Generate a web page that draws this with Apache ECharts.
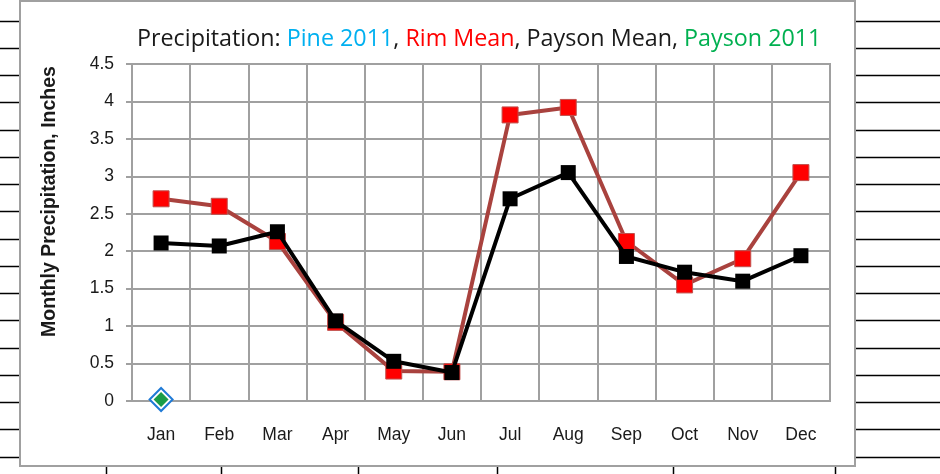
<!DOCTYPE html>
<html>
<head>
<meta charset="utf-8">
<script src="https://cdn.jsdelivr.net/npm/echarts@6/dist/echarts.min.js"></script>
<style>
    html, body { margin: 0; padding: 0; background: #fff; }
    #chart { width: 940px; height: 474px; }
</style>
</head>
<body>
<div id="chart"></div>
<script>
// data
var months = ['Jan', 'Feb', 'Mar', 'Apr', 'May', 'Jun', 'Jul', 'Aug', 'Sep', 'Oct', 'Nov', 'Dec'];
var rimMean = [2.7, 2.6, 2.13, 1.05, 0.4, 0.39, 3.82, 3.92, 2.13, 1.55, 1.9, 3.05];
var paysonMean = [2.11, 2.07, 2.26, 1.07, 0.53, 0.38, 2.7, 3.05, 1.93, 1.72, 1.6, 1.94];
var pine2011 = [0.02, null, null, null, null, null, null, null, null, null, null, null];
var payson2011 = [0.02, null, null, null, null, null, null, null, null, null, null, null];
var yMin = 0, yMax = 4.5, yStep = 0.5;

var font = 'Liberation Sans';
var titleFont = 'Open Sans';

// spreadsheet cell lines around the chart box
var cellLines = [];
for (var i = 0; i < 17; i++) {
    var y = Math.round(20.7 + 27.25 * i) + 0.5;
    cellLines.push({ type: 'line', shape: { x1: 0, y1: y, x2: 20, y2: y }, style: { stroke: '#000', lineWidth: 1.5 }, z: -20 });
    cellLines.push({ type: 'line', shape: { x1: 855, y1: y, x2: 940, y2: y }, style: { stroke: '#000', lineWidth: 1.5 }, z: -20 });
}
[106, 221, 358, 497, 673, 835].forEach(function (x) {
    cellLines.push({ type: 'line', shape: { x1: x + 0.5, y1: 466, x2: x + 0.5, y2: 474 }, style: { stroke: '#000', lineWidth: 1.5 }, z: -20 });
});
cellLines.push({
    type: 'rect', shape: { x: 20, y: 1, width: 835, height: 465 },
    style: { fill: '#fff', stroke: '#a0a0a0', lineWidth: 2 }, z: -10
});

var titleSize = 23.3;
function titleStyle(color) {
    return { color: color, fontSize: titleSize, lineHeight: 26, fontWeight: 'normal', fontFamily: titleFont };
}

var myChart = echarts.init(document.getElementById('chart'));
var option = {
    backgroundColor: '#fff',
    animation: false,
    textStyle: { fontFamily: font },
    graphic: { elements: cellLines },
    title: {
        text: '{a|Precipitation: }{b|Pine 2011}{a|, }{c|Rim Mean}{a|, Payson Mean, }{d|Payson 2011}',
        left: 137,
        top: 26,
        padding: 0,
        textStyle: {
            rich: {
                a: titleStyle('#1a1a1a'),
                b: titleStyle('#00b0f0'),
                c: titleStyle('#ff0000'),
                d: titleStyle('#00b050')
            }
        }
    },
    grid: {
        left: 132,
        top: 64,
        right: 110,
        bottom: 73,
        show: true,
        borderColor: '#a0a0a0',
        borderWidth: 2
    },
    xAxis: {
        type: 'category',
        data: months,
        boundaryGap: true,
        axisLine: { lineStyle: { color: '#a0a0a0', width: 2 } },
        axisTick: { length: 6, lineStyle: { color: '#a0a0a0', width: 2 } },
        splitLine: { show: true, lineStyle: { color: '#a0a0a0', width: 2 } },
        axisLabel: { color: '#1a1a1a', fontSize: 17.5, margin: 25, fontFamily: font }
    },
    yAxis: {
        type: 'value',
        min: yMin,
        max: yMax,
        interval: yStep,
        name: 'Monthly Precipitation, Inches',
        nameLocation: 'middle',
        nameGap: 72,
        nameTextStyle: { color: '#1a1a1a', fontSize: 19.5, fontWeight: 'bold', fontFamily: font, padding: [0, 0, 0, 62] },
        axisLine: { show: true, lineStyle: { color: '#a0a0a0', width: 2 } },
        axisTick: { show: true, length: 6, lineStyle: { color: '#a0a0a0', width: 2 } },
        splitLine: { lineStyle: { color: '#a0a0a0', width: 2 } },
        axisLabel: { color: '#1a1a1a', fontSize: 17.5, margin: 18, fontFamily: font }
    },
    series: [
        {
            name: 'Rim Mean',
            type: 'line',
            data: rimMean,
            symbol: 'rect',
            symbolSize: 16,
            lineStyle: { color: '#a9423e', width: 4 },
            itemStyle: { color: '#ff0000', borderColor: '#c0504d', borderWidth: 1 },
            z: 2
        },
        {
            name: 'Payson Mean',
            type: 'line',
            data: paysonMean,
            symbol: 'rect',
            symbolSize: 15,
            lineStyle: { color: '#000', width: 4 },
            itemStyle: { color: '#000' },
            z: 3
        },
        {
            name: 'Pine 2011',
            type: 'line',
            data: pine2011,
            symbol: 'diamond',
            symbolSize: 23,
            lineStyle: { width: 0 },
            itemStyle: { color: '#fff', borderColor: '#1f7ad6', borderWidth: 2 },
            z: 4
        },
        {
            name: 'Payson 2011',
            type: 'line',
            data: payson2011,
            symbol: 'diamond',
            symbolSize: 15,
            lineStyle: { width: 0 },
            itemStyle: { color: '#1a9c48', borderWidth: 0 },
            z: 5
        }
    ]
};
myChart.setOption(option);
</script>
</body>
</html>
